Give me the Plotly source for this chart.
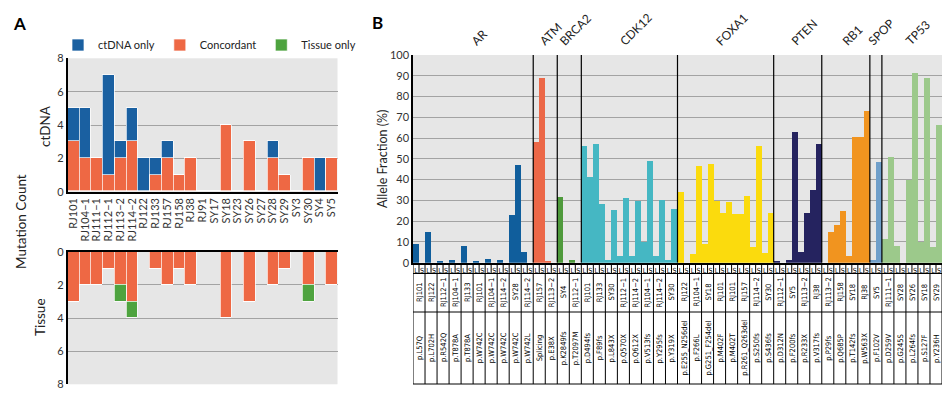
import plotly.graph_objects as go

# ---------------- Panel A data ----------------
samples = ["RJ101", "RJ104−1", "RJ111−1", "RJ112−1", "RJ113−2", "RJ114−2", "RJ122",
           "RJ133", "RJ157", "RJ158", "RJ38", "RJ91", "SY17", "SY18", "SY23", "SY26",
           "SY27", "SY28", "SY29", "SY3", "SY30", "SY4", "SY5"]
ctdna_concordant = [3, 2, 2, 1, 2, 3, 0, 1, 2, 1, 2, 0, 0, 4, 0, 3, 0, 2, 1, 0, 2, 0, 2]
ctdna_only = [2, 3, 0, 6, 1, 2, 2, 1, 1, 0, 0, 0, 0, 0, 0, 0, 0, 1, 0, 0, 0, 2, 0]
tissue_concordant = [3, 2, 2, 1, 2, 3, 0, 1, 2, 1, 2, 0, 0, 4, 0, 3, 0, 2, 1, 0, 2, 0, 2]
tissue_only = [0, 0, 0, 0, 1, 1, 0, 0, 0, 0, 0, 0, 0, 0, 0, 0, 0, 0, 0, 0, 1, 0, 0]

# ---------------- Panel B data ----------------
genes = (["AR"] * 10 + ["ATM"] * 2 + ["BRCA2"] * 2 + ["CDK12"] * 8 + ["FOXA1"] * 8 +
         ["PTEN"] * 4 + ["RB1"] * 4 + ["SPOP"] * 1 + ["TP53"] * 5)
mut_samples = ["RJ101", "RJ122", "RJ112−1", "RJ104−1", "RJ133", "RJ101", "RJ104−1", "RJ114−2",
               "SY28", "RJ114−2",
               "RJ157", "RJ113−2",
               "SY4", "RJ112−1",
               "RJ101", "RJ133", "SY30", "RJ112−1", "RJ114−2", "RJ104−1", "RJ114−2", "SY30",
               "RJ122", "RJ104−1", "SY18", "RJ101", "RJ101", "RJ157", "RJ114−2", "SY30",
               "RJ112−1", "SY5", "RJ113−2", "RJ38",
               "RJ113−2", "RJ158", "SY18", "RJ38",
               "SY5",
               "RJ111−1", "SY28", "SY26", "SY18", "SY29"]
mutations = ["p.L57Q", "p.L702H", "p.R542Q", "p.T878A", "p.T878A", "p.W742C", "p.W742C",
             "p.W742C", "p.W742C", "p.W742L",
             "Splicing", "p.E38X",
             "p.K2849fs", "p.T2097M",
             "p.D494fs", "p.F89fs", "p.L843X", "p.Q570X", "p.Q612X", "p.V513fs", "p.Y295fs",
             "p.Y319X",
             "p.E255_N256del", "p.F266L", "p.G251_F254del", "p.M402F", "p.M402T",
             "p.R261_Q263del", "p.S250fs", "p.S436fs",
             "p.D312N", "p.F200fs", "p.R233X", "p.V317fs",
             "p.P29fs", "p.Q685P", "p.T142fs", "p.W563X",
             "p.F102V",
             "p.D259V", "p.G245S", "p.L264fs", "p.S127F", "p.Y236H"]
af_liquid = [9, 15, 1, 1.5, 8, 1, 2, 1.5, 23, 5,
             58, 1,
             31.5, 1.5,
             56, 57, 1.5, 3.3, 3.3, 10, 3.3, 1.2,
             34, 4, 9, 29.5, 29, 23.3, 7.5, 4.8,
             1, 1.5, 5, 35,
             0, 18, 3, 60.5,
             1.5,
             11.5, 8, 40, 10, 7.5]
af_solid = [0, 0, 0, 0, 0, 0, 0, 0, 47, 0,
            89, 0,
            0, 0,
            41.5, 28.5, 25.5, 31.2, 29.6, 49, 30.2, 26,
            0, 46.7, 47.3, 24, 23.3, 31.9, 56, 23.8,
            0, 63, 24, 57,
            15, 25, 60.5, 73,
            48.5,
            51, 0, 91.5, 89, 66.5]
gene_order = ["AR", "ATM", "BRCA2", "CDK12", "FOXA1", "PTEN", "RB1", "SPOP", "TP53"]
gene_colors = {"AR": "#105e9c", "ATM": "#ec6848", "BRCA2": "#4f9a3c", "CDK12": "#45b7c3",
               "FOXA1": "#fbdb0d", "PTEN": "#25235f", "RB1": "#f1941f", "SPOP": "#6f9fca",
               "TP53": "#9cc98b"}
sample_type_labels = ["L", "S"]

BLUE, ORANGE, GREEN = "#1a60a1", "#ee6844", "#4ea33f"
FONT = "Lato, Open Sans, sans-serif"
NARROW = "Liberation Sans Narrow, DejaVu Sans Condensed, Arial Narrow, sans-serif"
W, H = 952, 399


def px(x):
    return x / W


def py(y):
    return 1 - y / H


fig = go.Figure()

# Panel A top (ctDNA)
fig.add_trace(go.Bar(x=samples, y=ctdna_concordant, name="Concordant", marker_color=ORANGE,
                     marker_line=dict(color="white", width=0.7), xaxis="x", yaxis="y",
                     legendgroup="conc", legendrank=2))
fig.add_trace(go.Bar(x=samples, y=ctdna_only, name="ctDNA only", marker_color=BLUE,
                     marker_line=dict(color="white", width=0.7), xaxis="x", yaxis="y",
                     legendrank=1))
# Panel A bottom (tissue)
fig.add_trace(go.Bar(x=samples, y=tissue_concordant, name="Concordant", marker_color=ORANGE,
                     marker_line=dict(color="white", width=0.7), xaxis="x2", yaxis="y2",
                     legendgroup="conc", showlegend=False))
fig.add_trace(go.Bar(x=samples, y=tissue_only, name="Tissue only", marker_color=GREEN,
                     marker_line=dict(color="white", width=0.7), xaxis="x2", yaxis="y2",
                     legendrank=3))

# Panel B
xb, yb, cb = [], [], []
for i, g in enumerate(genes):
    xb += [2 * i, 2 * i + 1]
    yb += [af_liquid[i], af_solid[i]]
    cb += [gene_colors[g]] * 2
fig.add_trace(go.Bar(x=xb, y=yb, marker_color=cb, marker_line_width=0, showlegend=False,
                     xaxis="x3", yaxis="y3", width=1.0))

n = len(genes)
shapes = []
annotations = []

# gene separators + gene labels
start = 0
for gi, g in enumerate(gene_order):
    cnt = genes.count(g)
    end = start + cnt
    if gi > 0:
        shapes.append(dict(type="line", xref="x3", yref="y3", x0=2 * start - 0.5, x1=2 * start - 0.5,
                           y0=0, y1=100, line=dict(color="black", width=1.2)))
    annotations.append(dict(text=g, xref="x3", yref="paper", x=(2 * start + 2 * end - 1) / 2,
                            y=py(51), textangle=-45, showarrow=False, xanchor="center",
                            yanchor="bottom", xshift=6, font=dict(size=12, color="#222", family=FONT)))
    start = end

# table under panel B
rows = [263.5, 273.5, 312, 384]
for r in rows:
    shapes.append(dict(type="line", xref="x3", yref="paper", x0=-0.5, x1=2 * n - 0.5,
                       y0=py(r), y1=py(r), line=dict(color="black", width=1)))
for k in range(2 * n + 1):
    x = k - 0.5
    bottom = 384 if k % 2 == 0 else 273.5
    shapes.append(dict(type="line", xref="x3", yref="paper", x0=x, x1=x,
                       y0=py(263.5), y1=py(bottom), line=dict(color="black", width=1)))
for i in range(n):
    annotations.append(dict(text=mut_samples[i], xref="x3", yref="paper", x=2 * i + 0.5,
                            y=py(292), textangle=-90, showarrow=False, xanchor="center",
                            yanchor="middle",
                            font=dict(size=7.5, family=NARROW, color="black")))
    annotations.append(dict(text=mutations[i], xref="x3", yref="paper", x=2 * i + 0.5,
                            y=py(348), textangle=-90, showarrow=False, xanchor="center",
                            yanchor="middle",
                            font=dict(size=7.5, family=NARROW, color="black")))

# Panel A titles
cm = dict(xref="paper", yref="paper", showarrow=False, xanchor="center", yanchor="middle")
annotations += [
    dict(text="<b>A</b>", x=px(19), y=py(23), font=dict(size=17, family=FONT, color="black"), **cm),
    dict(text="<b>B</b>", x=px(377), y=py(22), font=dict(size=17, family=FONT, color="black"), **cm),
    dict(text="ctDNA", x=px(45), y=py(126), textangle=-90,
         font=dict(size=13.5, family=FONT, color="#222"), **cm),
    dict(text="Tissue", x=px(40), y=py(317), textangle=-90,
         font=dict(size=13.5, family=FONT, color="#222"), **cm),
    dict(text="Mutation Count", x=px(21), y=py(222), textangle=-90,
         font=dict(size=13.5, family=FONT, color="#222"), **cm),
]

grid = "#a3a3a3"
fig.update_layout(
    width=W, height=H, margin=dict(l=0, r=0, t=0, b=0),
    paper_bgcolor="white", plot_bgcolor="#e6e6e6",
    barmode="stack", bargap=0,
    font=dict(family=FONT, color="#333"),
    showlegend=True,
    legend=dict(orientation="h", x=px(58), y=py(45), xanchor="left", yanchor="middle",
                font=dict(size=11, color="#222"),
                bgcolor="rgba(0,0,0,0)", traceorder="normal"),
    xaxis=dict(domain=[px(67.5), px(337.5)], anchor="y", type="category",
               categoryorder="array", categoryarray=samples, tickmode="array",
               tickvals=samples, ticktext=samples, tickangle=-90,
               showline=True, linecolor="black", linewidth=2, ticks="", showgrid=False,
               tickfont=dict(size=11, color="#333"), automargin=False),
    yaxis=dict(domain=[py(191.7), py(58.3)], anchor="x", range=[0, 8], dtick=2,
               showgrid=True, gridcolor=grid, gridwidth=1, showline=True, linecolor="black",
               linewidth=1.5, ticks="", zeroline=False, tickfont=dict(size=11, color="#333"),
               automargin=False),
    xaxis2=dict(domain=[px(67.5), px(337.5)], anchor="y2", type="category",
                categoryorder="array", categoryarray=samples, showticklabels=False,
                side="top", showline=True, linecolor="black", linewidth=2, ticks="",
                showgrid=False, automargin=False),
    yaxis2=dict(domain=[py(384.3), py(251.7)], anchor="x2", range=[8, 0], dtick=2,
                showgrid=True, gridcolor=grid, gridwidth=1, showline=True, linecolor="black",
                linewidth=1.5, ticks="", zeroline=False, tickfont=dict(size=11, color="#333"),
                automargin=False),
    xaxis3=dict(domain=[px(413), px(942)], anchor="y3", range=[-0.5, 2 * n - 0.5],
                tickmode="array", tickvals=list(range(2 * n)), ticktext=sample_type_labels * n,
                tickangle=0, tickfont=dict(size=7, family=NARROW, color="black"), ticks="",
                showline=True, linecolor="black", linewidth=2, showgrid=False, zeroline=False,
                automargin=False),
    yaxis3=dict(domain=[py(262.7), py(55)], anchor="x3", range=[0, 100], dtick=10,
                showgrid=True, gridcolor=grid, gridwidth=1, showline=True, linecolor="black",
                linewidth=1.5, ticks="", zeroline=False, tickfont=dict(size=11, color="#333"),
                title=dict(text="Allele Fraction (%)", font=dict(size=12.5, color="#222"),
                           standoff=0),
                automargin=False),
    shapes=shapes,
    annotations=annotations,
)

fig.write_html("out.html", config={"displayModeBar": False},
               post_script="document.body.style.margin='0px';")
